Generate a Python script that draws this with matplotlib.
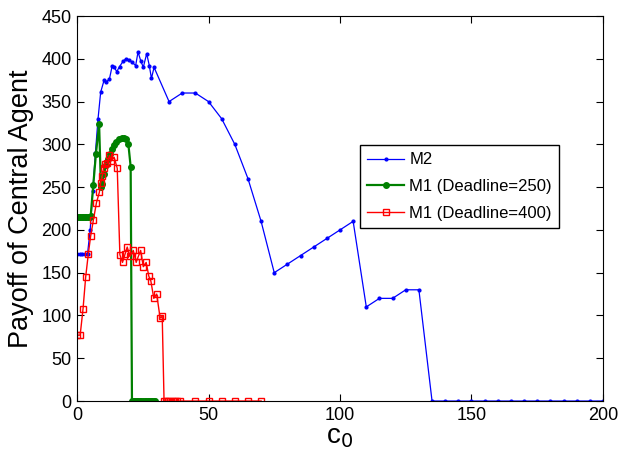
import matplotlib
matplotlib.use('Agg')
import matplotlib.pyplot as plt

plt.rcParams['font.family'] = ['Liberation Sans', 'DejaVu Sans']

# M2 series
m2_x = [0, 1, 2, 3, 4, 5, 6, 7, 8, 9, 10.3, 11.1, 12.3, 13.4, 14.2, 15.1, 16.2,
        17.5, 18.6, 19.8, 21, 22.3, 23.2, 24.2, 25.2, 26.5, 27.5, 28.3, 29.3,
        35, 40, 45, 50, 55, 60, 65, 70, 75, 80, 85, 90, 95, 100, 105, 110, 115,
        120, 125, 130, 135, 140, 145, 150, 155, 160, 165, 170, 175, 180, 185,
        190, 195, 200]
m2_y = [172, 172, 172, 172, 172, 200, 245, 290, 330, 361, 375, 373, 376, 392,
        390, 385, 391, 397, 400, 399, 396, 392, 408, 398, 390, 406, 392, 377,
        390, 350, 360, 360, 350, 330, 300, 260, 210, 150, 160, 170, 180, 190,
        200, 210, 110, 120, 120, 130, 130, 0, 0, 0, 0, 0, 0, 0, 0, 0, 0, 0, 0,
        0, 0]

# M1, deadline 250
d250_x = [0, 0.6, 1.2, 1.8, 2.4, 3.0, 3.6, 4.2, 4.8, 5.2, 6.2, 7.2, 8.4, 9.1,
          9.5, 10.3, 11.0, 11.7, 12.5, 13.4, 14.0, 15.0, 16.0, 17.0, 17.9,
          18.7, 19.5, 20.4, 20.9, 21.5, 22.1, 22.7, 23.3, 23.9, 24.5, 25.1,
          25.7, 26.3, 26.9, 27.5, 28.1, 28.7, 29.3, 29.8]
d250_y = [215, 215, 215, 215, 215, 215, 215, 215, 215, 216, 253, 289, 324, 250,
          254, 265, 276, 283, 289, 294, 299, 303, 306, 307, 307, 306, 301, 274,
          0, 0, 0, 0, 0, 0, 0, 0, 0, 0, 0, 0, 0, 0, 0, 0]

# M1, deadline 400
d400_x = [0, 1.2, 2.3, 3.3, 4.3, 5.2, 6.2, 7.4, 8.5, 9.0, 9.6, 10.1, 10.6, 11.5,
          12.3, 13.0, 14.1, 15.3, 16.3, 17.3, 18.3, 19.1, 20.1, 21.4, 22.5,
          23.3, 24.2, 25.2, 26.3, 27.3, 28.1, 29.2, 30.3, 31.6, 32.4, 33.1,
          33.8, 34.6, 35.5, 36.4, 37.3, 38.2, 39.2, 45, 50, 55, 60, 65, 70]
d400_y = [77, 77, 108, 145, 172, 193, 211, 232, 244, 255, 263, 272, 277, 278,
          287, 281, 285, 272, 171, 162, 172, 180, 169, 176, 162, 169, 176, 157,
          162, 146, 140, 120, 125, 97, 99, 0, 0, 0, 0, 0, 0, 0, 0, 0, 0, 0, 0,
          0, 0]

fig = plt.figure(figsize=(6.21, 4.54), dpi=100)
ax = fig.add_axes([0.124, 0.1167, 0.847, 0.848])

ax.plot(m2_x, m2_y, color='#0000ff', marker='.', markersize=4, linewidth=0.9,
        label='M2')
ax.plot(d250_x, d250_y, color='#008000', marker='o', markersize=4,
        markerfacecolor='#008000', linewidth=1.6, label='M1 (Deadline=250)')
ax.plot(d400_x, d400_y, color='#ff0000', marker='s', markersize=4.5,
        markerfacecolor='none', markeredgewidth=1.0, linewidth=1.0,
        label='M1 (Deadline=400)')

ax.set_xlim(0, 200)
ax.set_ylim(0, 450)
ax.set_xticks([0, 50, 100, 150, 200])
ax.set_yticks(range(0, 451, 50))
ax.tick_params(direction='in', top=True, right=True, labelsize=13, length=5,
               width=0.8, pad=4)
for s in ax.spines.values():
    s.set_linewidth(0.8)

ax.set_xlabel('c$_0$', fontsize=20, labelpad=0)
ax.set_ylabel('Payoff of Central Agent', fontsize=19.5, labelpad=5)

leg = ax.legend(loc='upper left', bbox_to_anchor=(0.538, 0.665),
                borderaxespad=0, fontsize=12, fancybox=False, framealpha=1,
                edgecolor='black', handlelength=2.2, labelspacing=0.7,
                borderpad=0.45, handletextpad=0.3)
leg.get_frame().set_linewidth(1.0)

fig.savefig('out.png', dpi=100, facecolor='white')
